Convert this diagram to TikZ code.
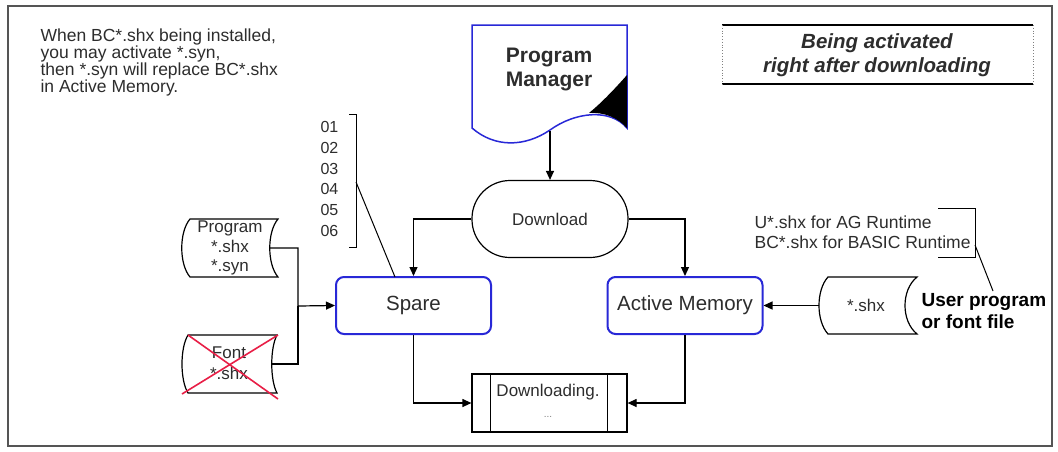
\documentclass[tikz,border=0pt]{standalone}
\usepackage{fontspec}
\setmainfont{Liberation Sans}
\usetikzlibrary{arrows.meta}
\definecolor{bblue}{RGB}{40,40,215}
\definecolor{xred}{RGB}{232,30,70}
\definecolor{framegray}{RGB}{85,85,85}
\definecolor{txtc}{RGB}{45,45,45}
\begin{document}
\begin{tikzpicture}[x=1pt,y=-1pt,line width=1.2pt,
  arr/.style={-{Triangle[length=9pt,width=8pt]}},
  bluebox/.style={draw=bblue,line width=2pt,rounded corners=8pt,minimum width=155pt,minimum height=57pt,font=\fontsize{20.5}{22}\selectfont,text=txtc},
  txt/.style={inner sep=0pt,text=txtc},
  stored/.style={line width=1.2pt},
  note/.style={line width=1pt}
]
\useasboundingbox (0,0) rectangle (1058,451);
\fill[white] (0,0) rectangle (1058,451);
\draw[framegray,line width=1.8pt] (8,6) rectangle (1052,446);

% top-left note
\node[txt,anchor=north west,align=left,font=\fontsize{17.5}{17}\selectfont] (note1) at (40,28)
  {When BC*.shx being installed,\\you may activate *.syn,\\then *.syn will replace BC*.shx\\in Active Memory.};

% top-right box
\coordinate (tb1) at (722,25); \coordinate (tb2) at (1033,25);
\coordinate (tb3) at (722,84); \coordinate (tb4) at (1033,84);
\draw (tb1) -- (tb2); \draw (tb3) -- (tb4);
\draw[gray,dotted,line width=0.8pt] (tb1) -- (tb3);
\draw[gray,dotted,line width=0.8pt] (tb2) -- (tb4);
\node[txt,align=center,font=\bfseries\itshape\fontsize{20.5}{24}\selectfont] (act) at (877,55)
  {Being activated\\right after downloading};

% Program Manager document
\draw[bblue,line width=1.5pt] (472,25) -- (627,25) -- (627,128)
  .. controls (610,108) and (575,112) .. (550,130)
  .. controls (525,147) and (495,148) .. (472,128) -- cycle;
\fill[black] (627,75) .. controls (612,92) and (600,104) .. (589,113)
  .. controls (605,112) and (618,118) .. (627,128) -- cycle;
\node[txt,align=center,font=\bfseries\fontsize{21}{24}\selectfont] (pm) at (549,69) {Program\\Manager};
\coordinate (pmb) at (550,131);

% Download terminator
\node[draw,rounded corners=38pt,minimum width=156pt,minimum height=77pt,text=txtc,font=\fontsize{17}{19}\selectfont] (download) at (550,219) {Download};

% Spare and Active Memory
\node[bluebox] (spare) at (413.5,305.5) {Spare};
\node[bluebox] (active) at (685,305.5) {Active Memory};

% Downloading predefined process
\node[draw,minimum width=155pt,minimum height=58pt] (dl) at (549.5,403) {};
\draw ([xshift=19pt]dl.north west) -- ([xshift=19pt]dl.south west);
\draw ([xshift=-20pt]dl.north east) -- ([xshift=-20pt]dl.south east);
\node[txt,font=\fontsize{17}{19}\selectfont] (dltext) at (548,392) {Downloading.};
\node[txt,font=\fontsize{10}{12}\selectfont,text=gray] (dldots) at (548,417) {...};

% Program stored data
\draw[stored] (190,219) -- (278,219) .. controls (267,232) and (267,264) .. (278,277)
  -- (190,277) .. controls (179,264) and (179,232) .. (190,219) -- cycle;
\node[txt,align=center,font=\fontsize{17}{19.5}\selectfont] (prog) at (230,248) {Program\\*.shx\\*.syn};
\coordinate (progr) at (270,248);

% Font stored data
\draw[stored] (188,335) -- (277,335) .. controls (270,348) and (270,380) .. (277,393)
  -- (188,393) .. controls (180,380) and (180,348) .. (188,335) -- cycle;
\node[txt,align=center,font=\fontsize{17}{21}\selectfont] (font) at (229,363.5) {Font\\*.shx};
\coordinate (fontr) at (272,364);
\draw[xred,line width=1.6pt] (188,335) -- (278,399);
\draw[xred,line width=1.6pt] (182,394) -- (278,335);

% shx stored data (right)
\draw[stored] (828,277) -- (917,277) .. controls (901,290) and (901,321) .. (917,334)
  -- (828,334) .. controls (816,321) and (816,290) .. (828,277) -- cycle;
\node[txt,font=\fontsize{17}{19}\selectfont] (shx) at (866,305.5) {*.shx};
\coordinate (shxl) at (819,305.5);

% connectors
\coordinate (junc) at (298,306);
\draw[arr] (pmb) -- (download.north);
\draw[arr] (download.west) -| (spare.north);
\draw[arr] (download.east) -| (active.north);
\draw[arr] (spare.south) |- (dl.west);
\draw[arr] (active.south) |- (dl.east);
\draw[arr] (progr) -| (junc) -- (spare.west);
\draw (fontr) -| (junc);
\draw[arr] (shxl) -- (active.east);

% numbers annotation
\node[txt,anchor=north west,align=left,font=\fontsize{16}{20.7}\selectfont] (nums) at (320,121) {01\\02\\03\\04\\05\\06};
\draw[note] (349,114) -- (356,114) -- (356,247) -- (349,247);
\coordinate (numsb) at (356,182);
\coordinate (sparet) at (395,277);
\draw[note] (numsb) -- (sparet);

% runtime annotation
\node[txt,anchor=west,align=left,font=\fontsize{17.5}{20}\selectfont] (rt) at (754,232) {U*.shx for AG Runtime\\BC*.shx for BASIC Runtime};
\draw[note] (938,208) -- (975,208) -- (975,257) -- (938,257);
\coordinate (rtb) at (975,245);
\coordinate (upt) at (993,291);
\draw[note] (rtb) -- (upt);
\node[txt,anchor=west,align=left,font=\bfseries\fontsize{19}{22}\selectfont,text=black] (up) at (921,311) {User program\\or font file};
\end{tikzpicture}
\end{document}
